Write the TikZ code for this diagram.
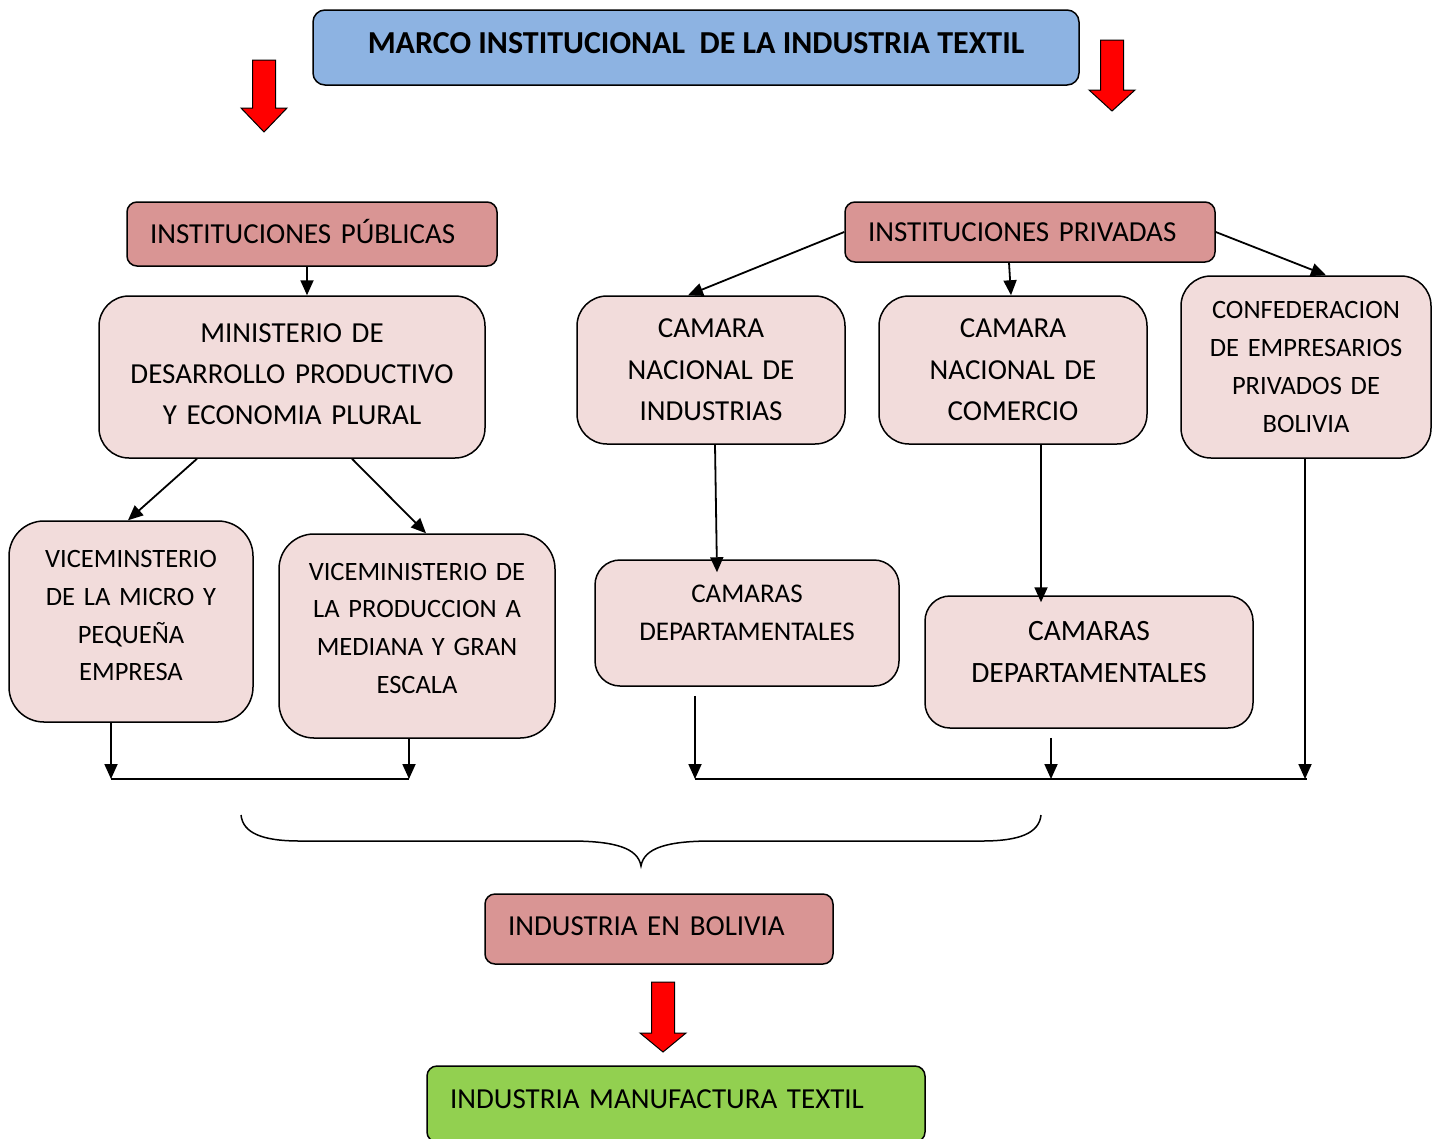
\documentclass[tikz,border=0pt]{standalone}
\usepackage{fontspec}
\setmainfont{Carlito}
\usetikzlibrary{arrows.meta}
\definecolor{azulmarco}{HTML}{8DB3E2}
\definecolor{rosaosc}{HTML}{D99594}
\definecolor{rosaclaro}{HTML}{F2DCDB}
\definecolor{verdetex}{HTML}{92D050}
\tikzset{
  caja/.style={draw, line width=1.5pt, fill=rosaclaro, rounded corners=30pt, align=center, inner sep=0pt},
  rotulo/.style={draw, line width=1.5pt, fill=rosaosc, rounded corners=10pt, align=left, inner sep=0pt,
    font=\fontsize{29}{35}\selectfont},
  flecha/.style={line width=1.8pt, -{Triangle[length=15pt,width=13pt]}},
  flecharoja/.style={draw=black, line width=1pt, fill=red},
}
\begin{document}
\begin{tikzpicture}[x=1pt,y=-1pt]
    \useasboundingbox (0,0) rectangle (1439,1138);
    \clip (0,0) rectangle (1439,1138);
    % titulo
    \node[draw, line width=1.5pt, fill=azulmarco, rounded corners=12pt, minimum width=766pt, minimum height=75pt,
      text depth=8pt, font=\fontsize{32}{38}\bfseries] (marco) at (696,47.5) {MARCO INSTITUCIONAL\ \ DE LA INDUSTRIA TEXTIL};
    \foreach \cx/\ty/\hy/\by in {264/60/108/132, 1112/40/90/111, 663/982/1033/1052}
        \draw[flecharoja] (\cx-11.5,\ty) -- (\cx+11.5,\ty) -- (\cx+11.5,\hy) -- (\cx+23,\hy)
            -- (\cx,\by) -- (\cx-23,\hy) -- (\cx-11.5,\hy) -- cycle;
    % instituciones
    \node[rotulo, minimum width=370pt, minimum height=64pt, text width=324pt, text depth=6pt] (pub) at (312,234) {INSTITUCIONES PÚBLICAS};
    \node[rotulo, minimum width=370pt, minimum height=60pt, text width=324pt] (priv) at (1030,232) {INSTITUCIONES PRIVADAS};
    % sector publico
    \node[caja, minimum width=386pt, minimum height=162pt, text width=370pt, text depth=88pt, font=\fontsize{29}{41}\selectfont]
        (min) at (292,377) {MINISTERIO DE\\DESARROLLO PRODUCTIVO\\Y ECONOMIA PLURAL};
    \node[caja, rounded corners=35pt, minimum width=244pt, minimum height=201pt, text width=230pt, text depth=125pt,
      font=\fontsize{26.5}{37.7}\selectfont]
        (vmicro) at (131,621.5) {VICEMINSTERIO\\DE LA MICRO Y\\PEQUEÑA\\EMPRESA};
    \node[caja, rounded corners=35pt, minimum width=276pt, minimum height=204pt, text width=262pt, text depth=129pt,
      font=\fontsize{26.5}{37.7}\selectfont]
        (vgran) at (417,636) {VICEMINISTERIO DE\\LA PRODUCCION A\\MEDIANA Y GRAN\\ESCALA};
    % sector privado
    \node[caja, minimum width=268pt, minimum height=148pt, text width=254pt, font=\fontsize{29}{41.5}\selectfont]
        (cni) at (711,370) {CAMARA\\NACIONAL DE\\INDUSTRIAS};
    \node[caja, minimum width=268pt, minimum height=148pt, text width=254pt, font=\fontsize{29}{41.5}\selectfont]
        (cnc) at (1013,370) {CAMARA\\NACIONAL DE\\COMERCIO};
    \node[caja, minimum width=250pt, minimum height=182pt, text width=240pt, font=\fontsize{26.5}{37.7}\selectfont]
        (cepb) at (1306,367) {CONFEDERACION\\DE EMPRESARIOS\\PRIVADOS DE\\BOLIVIA};
    \node[caja, rounded corners=25pt, minimum width=304pt, minimum height=126pt, text width=290pt, text depth=58pt,
      font=\fontsize{27}{38}\selectfont]
        (depi) at (747,623) {CAMARAS\\DEPARTAMENTALES};
    \node[caja, rounded corners=25pt, minimum width=328pt, minimum height=132pt, text width=314pt, text depth=62pt,
      font=\fontsize{29.5}{42}\selectfont]
        (depc) at (1089,662) {CAMARAS\\DEPARTAMENTALES};
    % resultado
    \node[rotulo, minimum width=348pt, minimum height=70pt, text width=302pt, text depth=6pt] (bol) at (659,929) {INDUSTRIA EN BOLIVIA};
    \node[rotulo, fill=verdetex, minimum width=498pt, minimum height=76pt, text width=452pt, text depth=10pt]
        (textil) at (676,1104) {INDUSTRIA MANUFACTURA TEXTIL};
    % uniones
    \coordinate (pubL) at (111,779);
    \coordinate (pubR) at (409,779);
    \coordinate (prL) at (695,779);
    \coordinate (prM) at (1051,779);
    \coordinate (prR) at (1305,779);
    % conectores
    \draw[flecha] ([xshift=-5pt]pub.south) -- ([xshift=15pt]min.north);
    \draw[flecha] ([xshift=-95pt]min.south) -- ([xshift=-3pt]vmicro.north);
    \draw[flecha] ([xshift=60pt]min.south) -- ([xshift=9pt]vgran.north);
    \draw[flecha] (priv.west) -- ([xshift=-23pt]cni.north);
    \draw[flecha] ([xshift=-21pt]priv.south) -- ([xshift=-2pt]cnc.north);
    \draw[flecha] (priv.east) -- ([xshift=20pt]cepb.north);
    \draw[flecha] ([xshift=4pt]cni.south) -- ([xshift=-30pt,yshift=-13pt]depi.north);
    \draw[flecha] ([xshift=28pt]cnc.south) -- ([xshift=-48pt,yshift=-7pt]depc.north);
    \draw[flecha] (vmicro.south -| pubL) -- (pubL);
    \draw[flecha] (vgran.south -| pubR) -- (pubR);
    \draw[flecha] ([yshift=-9pt]depi.south -| prL) -- (prL);
    \draw[flecha] ([yshift=-9pt]depc.south -| prM) -- (prM);
    \draw[flecha] (cepb.south -| prR) -- (prR);
    \draw[line width=1.8pt] (pubL) -- (pubR);
    \draw[line width=1.8pt] (prL) -- ([xshift=2pt]prR);
    % llave
    \draw[line width=1.5pt] (241,815) .. controls (243,833) and (262,841) .. (300,841) -- (570,841)
        .. controls (615,841) and (638,848) .. (641,866) .. controls (644,848) and (667,841) .. (712,841)
        -- (982,841) .. controls (1020,841) and (1039,833) .. (1041,815);
\end{tikzpicture}
\end{document}
